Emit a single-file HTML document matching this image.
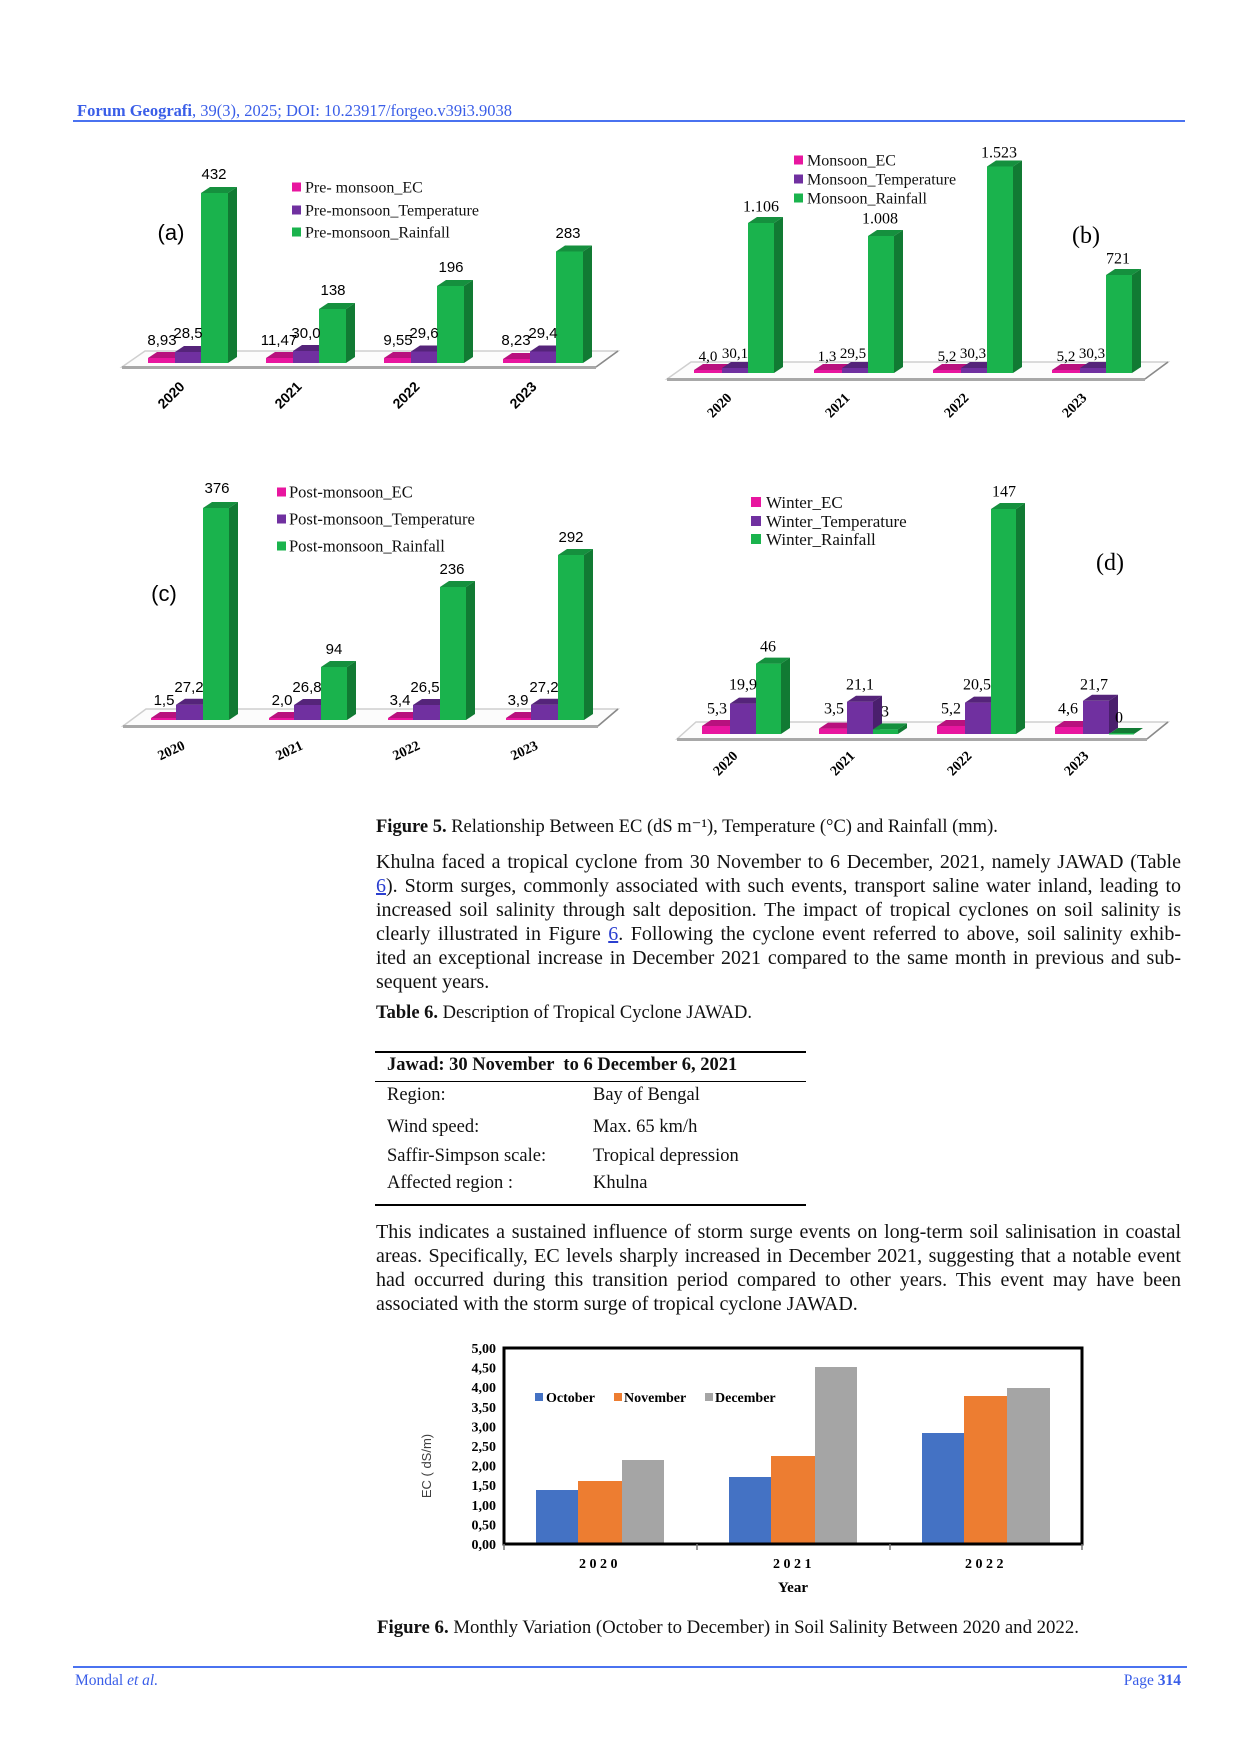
<!DOCTYPE html>
<html><head><meta charset="utf-8">
<style>
html,body{margin:0;padding:0;background:#fff;}
body{width:1240px;height:1754px;position:relative;overflow:hidden;font-family:"Liberation Serif",serif;color:#111;}
.a{position:absolute;white-space:nowrap;line-height:24px;}
.ln{position:absolute;left:376px;width:805px;font-size:20px;line-height:24px;text-align:justify;text-align-last:justify;white-space:normal;}
.ln.last{text-align-last:left;}
.cap{font-size:18.5px;}
.lk{color:#2b3fd0;text-decoration:underline;}
.tb{font-size:18.5px;}
.blue{color:#3a5ee8;}
</style></head><body>

<div class="a blue" style="left:77px;top:99px;font-size:16.5px;"><b>Forum Geografi</b>, 39(3), 2025; DOI: 10.23917/forgeo.v39i3.9038</div>
<div style="position:absolute;left:73px;top:120px;width:1112px;height:2px;background:#4a72f0;"></div>

<svg width="1240" height="1754" style="position:absolute;left:0;top:0;" xmlns="http://www.w3.org/2000/svg">
<defs>
<style>
.pf{fill:#e8169f}.pt{fill:#b8117e}.ps{fill:#a10e70}
.uf{fill:#7030a0}.ut{fill:#55247a}.us{fill:#4a1f6d}
.gf{fill:#1ab34d}.gt{fill:#15903e}.gs{fill:#117a33}
.sans{font-family:"Liberation Sans",sans-serif}
.ser{font-family:"Liberation Serif",serif}
</style>
</defs>

<!-- ============ CHART A ============ -->
<polygon points="122,367 596,367 618,351 145,351" fill="#fcfcfc" stroke="#cfcfcf" stroke-width="1.5"/>
<line x1="122" y1="367.5" x2="596" y2="367.5" stroke="#a8a8a8" stroke-width="3"/>
<line x1="596" y1="367" x2="618" y2="351" stroke="#8a8a8a" stroke-width="1.5"/>
<rect class="pf" x="148" y="358" width="27" height="5"/><polygon class="pt" points="148,358 157,352 184,352 175,358"/>
<rect class="uf" x="175" y="352" width="26" height="11"/><polygon class="ut" points="175,352 184,346 210,346 201,352"/>
<rect class="gf" x="201" y="193" width="27" height="170"/><polygon class="gt" points="201,193 210,187 237,187 228,193"/><polygon class="gs" points="228,193 237,187 237,357 228,363"/>
<rect class="pf" x="266" y="358" width="27" height="5"/><polygon class="pt" points="266,358 275,352 302,352 293,358"/>
<rect class="uf" x="293" y="351" width="26" height="12"/><polygon class="ut" points="293,351 302,345 328,345 319,351"/>
<rect class="gf" x="319" y="309" width="27" height="54"/><polygon class="gt" points="319,309 328,303 355,303 346,309"/><polygon class="gs" points="346,309 355,303 355,357 346,363"/>
<rect class="pf" x="384" y="358" width="27" height="5"/><polygon class="pt" points="384,358 393,352 420,352 411,358"/>
<rect class="uf" x="411" y="351.5" width="26" height="11.5"/><polygon class="ut" points="411,351.5 420,345.5 446,345.5 437,351.5"/>
<rect class="gf" x="437" y="286" width="27" height="77"/><polygon class="gt" points="437,286 446,280 473,280 464,286"/><polygon class="gs" points="464,286 473,280 473,357 464,363"/>
<rect class="pf" x="503" y="359" width="27" height="4"/><polygon class="pt" points="503,359 512,353 539,353 530,359"/>
<rect class="uf" x="530" y="351.5" width="26" height="11.5"/><polygon class="ut" points="530,351.5 539,345.5 565,345.5 556,351.5"/>
<rect class="gf" x="556" y="251.5" width="27" height="111.5"/><polygon class="gt" points="556,251.5 565,245.5 592,245.5 583,251.5"/><polygon class="gs" points="583,251.5 592,245.5 592,357 583,363"/>
<g class="sans" font-size="15" text-anchor="middle" fill="#000">
<text x="214" y="179">432</text><text x="333" y="295">138</text><text x="451" y="272">196</text><text x="568" y="238">283</text>
<text x="162" y="345">8,93</text><text x="188" y="338">28,5</text>
<text x="279" y="345">11,47</text><text x="306" y="338">30,0</text>
<text x="398" y="345">9,55</text><text x="424" y="338">29,6</text>
<text x="516" y="345">8,23</text><text x="543" y="338">29,4</text>
</g>
<text class="sans" x="171" y="240" font-size="22" text-anchor="middle">(a)</text>
<rect x="292" y="182.5" width="9" height="9" fill="#e8169f"/><rect x="292" y="205.5" width="9" height="9" fill="#7030a0"/><rect x="292" y="227.5" width="9" height="9" fill="#1ab34d"/>
<g class="ser" font-size="16" fill="#111"><text x="305" y="192.5">Pre- monsoon_EC</text><text x="305" y="215.5">Pre-monsoon_Temperature</text><text x="305" y="237.5">Pre-monsoon_Rainfall</text></g>
<g class="sans" font-size="14" font-weight="bold" text-anchor="middle">
<text x="171" y="400" transform="rotate(-45 171 395)">2020</text>
<text x="288" y="400" transform="rotate(-45 288 395)">2021</text>
<text x="406" y="400" transform="rotate(-45 406 395)">2022</text>
<text x="523" y="400" transform="rotate(-45 523 395)">2023</text>
</g>

<!-- ============ CHART B ============ -->
<polygon points="667,379 1145,379 1168,362 691,362" fill="#fcfcfc" stroke="#cfcfcf" stroke-width="1.5"/>
<line x1="667" y1="379.5" x2="1145" y2="379.5" stroke="#a8a8a8" stroke-width="3"/>
<line x1="1145" y1="379" x2="1168" y2="362" stroke="#8a8a8a" stroke-width="1.5"/>
<rect class="pf" x="694" y="370" width="28" height="3"/><polygon class="pt" points="694,370 703,364 731,364 722,370"/>
<rect class="uf" x="722" y="368" width="26" height="5"/><polygon class="ut" points="722,368 731,362 757,362 748,368"/>
<rect class="gf" x="748" y="223" width="26" height="150"/><polygon class="gt" points="748,223 757,217 783,217 774,223"/><polygon class="gs" points="774,223 783,217 783,367 774,373"/>
<rect class="pf" x="814" y="370" width="28" height="3"/><polygon class="pt" points="814,370 823,364 851,364 842,370"/>
<rect class="uf" x="842" y="368" width="26" height="5"/><polygon class="ut" points="842,368 851,362 877,362 868,368"/>
<rect class="gf" x="868" y="236" width="26" height="137"/><polygon class="gt" points="868,236 877,230 903,230 894,236"/><polygon class="gs" points="894,236 903,230 903,367 894,373"/>
<rect class="pf" x="933" y="370" width="28" height="3"/><polygon class="pt" points="933,370 942,364 970,364 961,370"/>
<rect class="uf" x="961" y="368" width="26" height="5"/><polygon class="ut" points="961,368 970,362 996,362 987,368"/>
<rect class="gf" x="987" y="166.5" width="26" height="206.5"/><polygon class="gt" points="987,166.5 996,160.5 1022,160.5 1013,166.5"/><polygon class="gs" points="1013,166.5 1022,160.5 1022,367 1013,373"/>
<rect class="pf" x="1052" y="370" width="28" height="3"/><polygon class="pt" points="1052,370 1061,364 1089,364 1080,370"/>
<rect class="uf" x="1080" y="368" width="26" height="5"/><polygon class="ut" points="1080,368 1089,362 1115,362 1106,368"/>
<rect class="gf" x="1106" y="275" width="26" height="98"/><polygon class="gt" points="1106,275 1115,269 1141,269 1132,275"/><polygon class="gs" points="1132,275 1141,269 1141,367 1132,373"/>
<g class="ser" font-size="16" text-anchor="middle" fill="#000">
<text x="761" y="211.5">1.106</text><text x="880" y="223.5">1.008</text><text x="999" y="157.5">1.523</text><text x="1118" y="263.5">721</text>
</g>
<g class="ser" font-size="15" text-anchor="middle" fill="#000">
<text x="708" y="361">4,0</text><text x="735" y="358">30,1</text>
<text x="827" y="361">1,3</text><text x="853" y="358">29,5</text>
<text x="947" y="361">5,2</text><text x="973" y="358">30,3</text>
<text x="1066" y="361">5,2</text><text x="1092" y="358">30,3</text>
</g>
<text class="ser" x="1086" y="243" font-size="24" text-anchor="middle">(b)</text>
<rect x="794" y="155.5" width="9" height="9" fill="#e8169f"/><rect x="794" y="174.5" width="9" height="9" fill="#7030a0"/><rect x="794" y="193.5" width="9" height="9" fill="#1ab34d"/>
<g class="ser" font-size="16" fill="#111"><text x="807" y="165.5">Monsoon_EC</text><text x="807" y="184.5">Monsoon_Temperature</text><text x="807" y="203.5">Monsoon_Rainfall</text></g>
<g class="ser" font-size="14" font-weight="bold" text-anchor="middle">
<text x="719" y="410" transform="rotate(-45 719 405)">2020</text>
<text x="837" y="410" transform="rotate(-45 837 405)">2021</text>
<text x="956" y="410" transform="rotate(-45 956 405)">2022</text>
<text x="1074" y="410" transform="rotate(-45 1074 405)">2023</text>
</g>

<!-- ============ CHART C ============ -->
<polygon points="123,726 598,726 618,709 146,709" fill="#fcfcfc" stroke="#cfcfcf" stroke-width="1.5"/>
<line x1="123" y1="726.5" x2="598" y2="726.5" stroke="#a8a8a8" stroke-width="3"/>
<line x1="598" y1="726" x2="618" y2="709" stroke="#8a8a8a" stroke-width="1.5"/>
<rect class="pf" x="151" y="718" width="25" height="2"/><polygon class="pt" points="151,718 160,712 185,712 176,718"/>
<rect class="uf" x="176" y="704.7" width="27" height="15.3"/><polygon class="ut" points="176,704.7 185,698.7 212,698.7 203,704.7"/>
<rect class="gf" x="203" y="508" width="26" height="212"/><polygon class="gt" points="203,508 212,502 238,502 229,508"/><polygon class="gs" points="229,508 238,502 238,714 229,720"/>
<rect class="pf" x="269" y="718" width="25" height="2"/><polygon class="pt" points="269,718 278,712 303,712 294,718"/>
<rect class="uf" x="294" y="705" width="27" height="15"/><polygon class="ut" points="294,705 303,699 330,699 321,705"/>
<rect class="gf" x="321" y="667" width="26" height="53"/><polygon class="gt" points="321,667 330,661 356,661 347,667"/><polygon class="gs" points="347,667 356,661 356,714 347,720"/>
<rect class="pf" x="388" y="718" width="25" height="2"/><polygon class="pt" points="388,718 397,712 422,712 413,718"/>
<rect class="uf" x="413" y="705" width="27" height="15"/><polygon class="ut" points="413,705 422,699 449,699 440,705"/>
<rect class="gf" x="440" y="587" width="26" height="133"/><polygon class="gt" points="440,587 449,581 475,581 466,587"/><polygon class="gs" points="466,587 475,581 475,714 466,720"/>
<rect class="pf" x="506" y="718" width="25" height="2"/><polygon class="pt" points="506,718 515,712 540,712 531,718"/>
<rect class="uf" x="531" y="704.7" width="27" height="15.3"/><polygon class="ut" points="531,704.7 540,698.7 567,698.7 558,704.7"/>
<rect class="gf" x="558" y="555" width="26" height="165"/><polygon class="gt" points="558,555 567,549 593,549 584,555"/><polygon class="gs" points="584,555 593,549 593,714 584,720"/>
<g class="sans" font-size="15" text-anchor="middle" fill="#000">
<text x="217" y="493">376</text><text x="334" y="654">94</text><text x="452" y="574">236</text><text x="571" y="542">292</text>
<text x="164" y="705">1,5</text><text x="189" y="692">27,2</text>
<text x="282" y="705">2,0</text><text x="307" y="692">26,8</text>
<text x="400" y="705">3,4</text><text x="425" y="692">26,5</text>
<text x="518" y="705">3,9</text><text x="544" y="692">27,2</text>
</g>
<text class="sans" x="164" y="601" font-size="22" text-anchor="middle">(c)</text>
<rect x="277" y="487.5" width="9" height="9" fill="#e8169f"/><rect x="277" y="514.5" width="9" height="9" fill="#7030a0"/><rect x="277" y="541.5" width="9" height="9" fill="#1ab34d"/>
<g class="ser" font-size="16.5" fill="#111"><text x="289" y="497.5">Post-monsoon_EC</text><text x="289" y="524.5">Post-monsoon_Temperature</text><text x="289" y="551.5">Post-monsoon_Rainfall</text></g>
<g class="ser" font-size="14" font-weight="bold" text-anchor="middle">
<text x="171" y="755" transform="rotate(-25 171 750)">2020</text>
<text x="289" y="755" transform="rotate(-25 289 750)">2021</text>
<text x="406" y="755" transform="rotate(-25 406 750)">2022</text>
<text x="524" y="755" transform="rotate(-25 524 750)">2023</text>
</g>

<!-- ============ CHART D ============ -->
<polygon points="677,739 1147,739 1168,722 696,722" fill="#fcfcfc" stroke="#cfcfcf" stroke-width="1.5"/>
<line x1="677" y1="739.5" x2="1147" y2="739.5" stroke="#a8a8a8" stroke-width="3"/>
<line x1="1147" y1="739" x2="1168" y2="722" stroke="#8a8a8a" stroke-width="1.5"/>
<rect class="pf" x="702" y="726" width="28" height="8"/><polygon class="pt" points="702,726 711,720 739,720 730,726"/>
<rect class="uf" x="730" y="703.6" width="26" height="30.4"/><polygon class="ut" points="730,703.6 739,697.6 765,697.6 756,703.6"/>
<rect class="gf" x="756" y="663.6" width="25" height="70.4"/><polygon class="gt" points="756,663.6 765,657.6 790,657.6 781,663.6"/><polygon class="gs" points="781,663.6 790,657.6 790,728 781,734"/>
<rect class="pf" x="819" y="728.6" width="28" height="5.4"/><polygon class="pt" points="819,728.6 828,722.6 856,722.6 847,728.6"/>
<rect class="uf" x="847" y="701.7" width="26" height="32.3"/><polygon class="ut" points="847,701.7 856,695.7 882,695.7 873,701.7"/>
<polygon class="us" points="873,701.7 882,695.7 882,728 873,734"/>
<rect class="gf" x="873" y="729.4" width="25" height="4.6"/><polygon class="gt" points="873,729.4 882,723.4 907,723.4 898,729.4"/><polygon class="gs" points="898,729.4 907,723.4 907,728 898,734"/>
<rect class="pf" x="937" y="726" width="28" height="8"/><polygon class="pt" points="937,726 946,720 974,720 965,726"/>
<rect class="uf" x="965" y="702.6" width="26" height="31.4"/><polygon class="ut" points="965,702.6 974,696.6 1000,696.6 991,702.6"/>
<rect class="gf" x="991" y="509" width="25" height="225"/><polygon class="gt" points="991,509 1000,503 1025,503 1016,509"/><polygon class="gs" points="1016,509 1025,503 1025,728 1016,734"/>
<rect class="pf" x="1055" y="727" width="28" height="7"/><polygon class="pt" points="1055,727 1064,721 1092,721 1083,727"/>
<rect class="uf" x="1083" y="700.8" width="26" height="33.2"/><polygon class="ut" points="1083,700.8 1092,694.8 1118,694.8 1109,700.8"/>
<polygon class="us" points="1109,700.8 1118,694.8 1118,728 1109,734"/>
<polygon class="gs" points="1109,734 1118,728 1143,728 1134,734"/><rect class="gf" x="1109" y="733" width="25" height="1.5"/>
<g class="ser" font-size="16" text-anchor="middle" fill="#000">
<text x="768" y="651.5">46</text><text x="1004" y="496.5">147</text><text x="885" y="716.5">3</text><text x="1119" y="722.5">0</text>
<text x="717" y="713.5">5,3</text><text x="743" y="689.5">19,9</text>
<text x="834" y="713.5">3,5</text><text x="860" y="689.5">21,1</text>
<text x="951" y="713.5">5,2</text><text x="977" y="689.5">20,5</text>
<text x="1068" y="713.5">4,6</text><text x="1094" y="689.5">21,7</text>
</g>
<text class="ser" x="1110" y="570" font-size="24" text-anchor="middle">(d)</text>
<rect x="751" y="497" width="10" height="10" fill="#e8169f"/><rect x="751" y="516" width="10" height="10" fill="#7030a0"/><rect x="751" y="534" width="10" height="10" fill="#1ab34d"/>
<g class="ser" font-size="17" fill="#111"><text x="766" y="508">Winter_EC</text><text x="766" y="527">Winter_Temperature</text><text x="766" y="545">Winter_Rainfall</text></g>
<g class="ser" font-size="14" font-weight="bold" text-anchor="middle">
<text x="725" y="768" transform="rotate(-45 725 763)">2020</text>
<text x="842" y="768" transform="rotate(-45 842 763)">2021</text>
<text x="959" y="768" transform="rotate(-45 959 763)">2022</text>
<text x="1076" y="768" transform="rotate(-45 1076 763)">2023</text>
</g>

<!-- ============ FIGURE 6 ============ -->
<rect x="536" y="1490" width="42" height="54" fill="#4472c4"/>
<rect x="578" y="1481" width="44" height="63" fill="#ed7d31"/>
<rect x="622" y="1460" width="42" height="84" fill="#a5a5a5"/>
<rect x="729" y="1477" width="42" height="67" fill="#4472c4"/>
<rect x="771" y="1456" width="44" height="88" fill="#ed7d31"/>
<rect x="815" y="1367" width="42" height="177" fill="#a5a5a5"/>
<rect x="922" y="1433" width="42" height="111" fill="#4472c4"/>
<rect x="964" y="1396" width="43" height="148" fill="#ed7d31"/>
<rect x="1007" y="1388" width="43" height="156" fill="#a5a5a5"/>
<rect x="504" y="1348" width="578" height="196" fill="none" stroke="#000" stroke-width="3"/>
<g stroke="#777" stroke-width="1.5"><line x1="504" y1="1544" x2="504" y2="1550"/><line x1="697" y1="1544" x2="697" y2="1550"/><line x1="890" y1="1544" x2="890" y2="1550"/><line x1="1082" y1="1544" x2="1082" y2="1550"/></g>
<g class="ser" font-size="14" font-weight="bold" text-anchor="end" fill="#000">
<text x="496" y="1549">0,00</text><text x="496" y="1529.4">0,50</text><text x="496" y="1509.8">1,00</text><text x="496" y="1490.2">1,50</text><text x="496" y="1470.6">2,00</text><text x="496" y="1451">2,50</text><text x="496" y="1431.4">3,00</text><text x="496" y="1411.8">3,50</text><text x="496" y="1392.2">4,00</text><text x="496" y="1372.6">4,50</text><text x="496" y="1353">5,00</text>
</g>
<rect x="535" y="1393" width="8" height="8" fill="#4472c4"/><rect x="614" y="1393" width="8" height="8" fill="#ed7d31"/><rect x="705" y="1393" width="8" height="8" fill="#a5a5a5"/>
<g class="ser" font-size="14" font-weight="bold" fill="#000"><text x="546" y="1402">October</text><text x="624" y="1402">November</text><text x="715" y="1402">December</text></g>
<g class="ser" font-size="14" font-weight="bold" text-anchor="middle" letter-spacing="3.5" fill="#000">
<text x="600" y="1568">2020</text><text x="794" y="1568">2021</text><text x="986" y="1568">2022</text>
</g>
<text class="ser" x="793" y="1592" font-size="15" font-weight="bold" text-anchor="middle">Year</text>
<text class="sans" x="427" y="1470" font-size="13" fill="#404040" text-anchor="middle" transform="rotate(-90 427 1466)">EC ( dS/m)</text>
</svg>

<div class="a cap" style="left:376px;top:815px;"><b>Figure 5.</b> Relationship Between EC (dS m⁻¹), Temperature (°C) and Rainfall (mm).</div>

<div class="ln" style="top:850px;">Khulna faced a tropical cyclone from 30 November to 6 December, 2021, namely JAWAD (Table</div>
<div class="ln" style="top:874px;"><span class="lk">6</span>). Storm surges, commonly associated with such events, transport saline water inland, leading to</div>
<div class="ln" style="top:898px;">increased soil salinity through salt deposition. The impact of tropical cyclones on soil salinity is</div>
<div class="ln" style="top:922px;">clearly illustrated in Figure <span class="lk">6</span>. Following the cyclone event referred to above, soil salinity exhib-</div>
<div class="ln" style="top:946px;">ited an exceptional increase in December 2021 compared to the same month in previous and sub-</div>
<div class="ln last" style="top:970px;">sequent years.</div>

<div class="a cap" style="left:376px;top:1001px;"><b>Table 6.</b> Description of Tropical Cyclone JAWAD.</div>

<div style="position:absolute;left:375px;top:1051px;width:431px;height:1.5px;background:#000;"></div>
<div class="a tb" style="left:387px;top:1053px;"><b>Jawad: 30 November &nbsp;to 6 December 6, 2021</b></div>
<div style="position:absolute;left:375px;top:1081px;width:431px;height:1px;background:#000;"></div>
<div class="a tb" style="left:387px;top:1083px;">Region:</div><div class="a tb" style="left:593px;top:1083px;">Bay of Bengal</div>
<div class="a tb" style="left:387px;top:1115px;">Wind speed:</div><div class="a tb" style="left:593px;top:1115px;">Max. 65 km/h</div>
<div class="a tb" style="left:387px;top:1144px;">Saffir-Simpson scale:</div><div class="a tb" style="left:593px;top:1144px;">Tropical depression</div>
<div class="a tb" style="left:387px;top:1171px;">Affected region :</div><div class="a tb" style="left:593px;top:1171px;">Khulna</div>
<div style="position:absolute;left:375px;top:1204px;width:431px;height:1.5px;background:#000;"></div>

<div class="ln" style="top:1220px;">This indicates a sustained influence of storm surge events on long-term soil salinisation in coastal</div>
<div class="ln" style="top:1244px;">areas. Specifically, EC levels sharply increased in December 2021, suggesting that a notable event</div>
<div class="ln" style="top:1268px;">had occurred during this transition period compared to other years. This event may have been</div>
<div class="ln last" style="top:1292px;">associated with the storm surge of tropical cyclone JAWAD.</div>

<div class="a" style="left:377px;top:1616px;font-size:18.8px;"><b>Figure 6.</b> Monthly Variation (October to December) in Soil Salinity Between 2020 and 2022.</div>

<div style="position:absolute;left:73px;top:1666px;width:1114px;height:2px;background:#4a72f0;"></div>
<div class="a blue" style="left:75px;top:1669px;font-size:15.5px;">Mondal <i>et al.</i></div>
<div class="a blue" style="right:59px;top:1669px;font-size:15.5px;">Page <b>314</b></div>

</body></html>
